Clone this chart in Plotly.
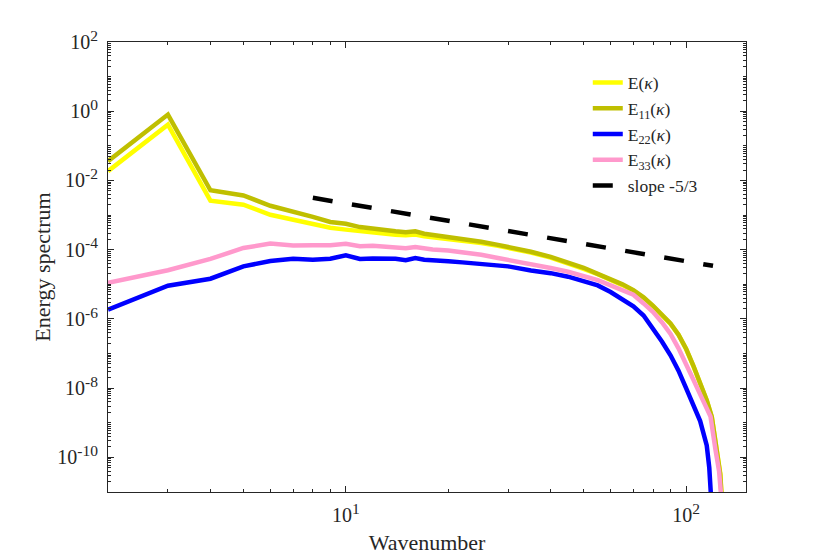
import math
import plotly.graph_objects as go

# ---- data ----
k_base = [2, 3, 4, 5, 6, 7, 8, 9, 10, 11, 12, 13, 14, 15, 16, 17, 18, 20, 22, 25,
          28, 30, 35, 40, 45, 50, 55, 60, 65, 70, 75, 80, 85, 90, 95, 100, 105, 110]

k_E = k_base + [115, 119, 123, 126, 128]
E_total = [1.85e-2, 0.41, 2.6e-3, 2.0e-3, 1.02e-3, 7.4e-4, 5.4e-4, 4.3e-4, 3.8e-4, 3.4e-4,
           3.1e-4, 2.9e-4, 2.7e-4, 2.6e-4, 2.75e-4, 2.45e-4, 2.3e-4, 2.1e-4, 1.86e-4, 1.55e-4,
           1.29e-4, 1.15e-4, 8.3e-5, 5.9e-5, 4.1e-5, 2.8e-5, 1.95e-5, 1.38e-5, 9.5e-6, 6.5e-6,
           4.0e-6, 2.3e-6, 1.29e-6, 7.2e-7, 3.5e-7, 1.35e-7, 4.4e-8, 1.38e-8,
           4.4e-9, 1.45e-9, 1.6e-10, 3.5e-11, 3.0e-12]

k_E11 = k_base + [115, 119, 123, 126, 128]
E11 = [3.6e-2, 0.80, 5.2e-3, 3.7e-3, 1.86e-3, 1.29e-3, 8.9e-4, 6.3e-4, 5.6e-4, 4.5e-4,
       4.0e-4, 3.7e-4, 3.4e-4, 3.2e-4, 3.4e-4, 2.9e-4, 2.7e-4, 2.4e-4, 2.1e-4, 1.7e-4,
       1.38e-4, 1.2e-4, 8.7e-5, 6.2e-5, 4.3e-5, 3.0e-5, 2.0e-5, 1.45e-5, 1.0e-5, 6.8e-6,
       4.2e-6, 2.4e-6, 1.32e-6, 7.4e-7, 3.5e-7, 1.38e-7, 4.5e-8, 1.41e-8,
       4.5e-9, 1.5e-9, 1.66e-10, 3.2e-11, 2.5e-12]

k_E22 = k_base + [115, 117, 119]
E22 = [1.86e-6, 9.1e-6, 1.45e-5, 3.3e-5, 4.7e-5, 5.5e-5, 5.1e-5, 5.5e-5, 6.9e-5, 5.4e-5,
       5.6e-5, 5.5e-5, 5.5e-5, 5.0e-5, 5.75e-5, 5.1e-5, 5.0e-5, 4.6e-5, 4.3e-5, 3.8e-5,
       3.5e-5, 3.3e-5, 2.5e-5, 2.1e-5, 1.66e-5, 1.26e-5, 9.3e-6, 6.0e-6, 3.8e-6, 2.3e-6,
       1.26e-6, 5.4e-7, 2.2e-7, 8.9e-8, 3.2e-8, 1.0e-8, 3.2e-9, 1.12e-9,
       2.2e-10, 5.0e-11, 3.2e-12]

k_E33 = k_base + [115, 118, 122, 125, 127]
E33 = [1.1e-5, 2.55e-5, 5.4e-5, 1.12e-4, 1.5e-4, 1.32e-4, 1.35e-4, 1.35e-4, 1.48e-4, 1.26e-4,
       1.29e-4, 1.2e-4, 1.17e-4, 1.1e-4, 1.2e-4, 1.07e-4, 1.02e-4, 9.5e-5, 8.5e-5, 7.1e-5,
       5.75e-5, 5.1e-5, 3.8e-5, 2.95e-5, 2.3e-5, 1.74e-5, 1.32e-5, 9.3e-6, 6.6e-6, 5.0e-6,
       2.8e-6, 1.58e-6, 7.9e-7, 3.7e-7, 1.41e-7, 4.5e-8, 1.78e-8, 6.6e-9,
       2.8e-9, 1.5e-9, 1.66e-10, 4.0e-11, 6.3e-12]

k_slope = [8, 120]
E_slope = [3.15e-3, 3.42e-5]

series_names = ["E(<i>κ</i>)", "E<sub>11</sub>(<i>κ</i>)", "E<sub>22</sub>(<i>κ</i>)",
                "E<sub>33</sub>(<i>κ</i>)", "slope -5/3"]

x_tickvals = [10, 100]
x_exponents = ["1", "2"]
y_tickvals = [1e-10, 1e-8, 1e-6, 1e-4, 1e-2, 1e0, 1e2]
y_exponents = ["-10", "-8", "-6", "-4", "-2", "0", "2"]

# ---- styles ----
FONT = "Liberation Serif"
AX = "#262626"
LW = 4.5
SUP = "<sup><span style='font-size:15.5px'>{}</span></sup>"
x_ticktext = ["10" + SUP.format(e) for e in x_exponents]
y_ticktext = ["10" + SUP.format(e) for e in y_exponents]

fig = go.Figure()
fig.add_trace(go.Scatter(x=k_E, y=E_total, mode="lines", name=series_names[0],
                         line=dict(color="#FFFF00", width=LW)))
fig.add_trace(go.Scatter(x=k_E11, y=E11, mode="lines", name=series_names[1],
                         line=dict(color="#BFBF00", width=LW)))
fig.add_trace(go.Scatter(x=k_E22, y=E22, mode="lines", name=series_names[2],
                         line=dict(color="#0000FF", width=LW)))
fig.add_trace(go.Scatter(x=k_E33, y=E33, mode="lines", name=series_names[3],
                         line=dict(color="#FF99CC", width=LW)))
fig.add_trace(go.Scatter(x=k_slope, y=E_slope, mode="lines", name=series_names[4],
                         line=dict(color="#000000", width=LW, dash="20px,19.6px")))

axis_common = dict(
    type="log", showgrid=False, zeroline=False, automargin=False,
    showline=True, linecolor=AX, linewidth=1, mirror="ticks",
    ticks="inside", ticklen=6, tickwidth=1, tickcolor=AX,
    tickfont=dict(family=FONT, size=20, color=AX),
    minor=dict(ticks="inside", ticklen=3, tickwidth=1, tickcolor=AX,
               tickmode="linear", dtick="D1", showgrid=False),
)

# page body has an 8px default margin, so the figure is sized/offset to compensate
fig.update_layout(
    width=816, height=547,
    margin=dict(l=100, r=78, t=34, b=63),
    paper_bgcolor="white", plot_bgcolor="white",
    font=dict(family=FONT, color=AX),
    showlegend=True,
    legend=dict(x=0.752, y=0.95, xanchor="left", yanchor="top",
                bgcolor="rgba(0,0,0,0)", borderwidth=0,
                font=dict(family=FONT, size=17.5, color=AX),
                itemwidth=30, tracegroupgap=0),
    xaxis=dict(axis_common, range=[math.log10(2), math.log10(150)],
               tickmode="array", tickvals=x_tickvals, ticktext=x_ticktext,
               ticklabelstandoff=5,
               title=dict(text="Wavenumber", font=dict(family=FONT, size=22, color=AX),
                          standoff=10)),
    yaxis=dict(axis_common, range=[-11, 2],
               tickmode="array", tickvals=y_tickvals, ticktext=y_ticktext,
               ticklabelstandoff=5,
               title=dict(text="Energy spectrum", font=dict(family=FONT, size=22, color=AX),
                          standoff=0)),
)

fig.write_html("out.html")
